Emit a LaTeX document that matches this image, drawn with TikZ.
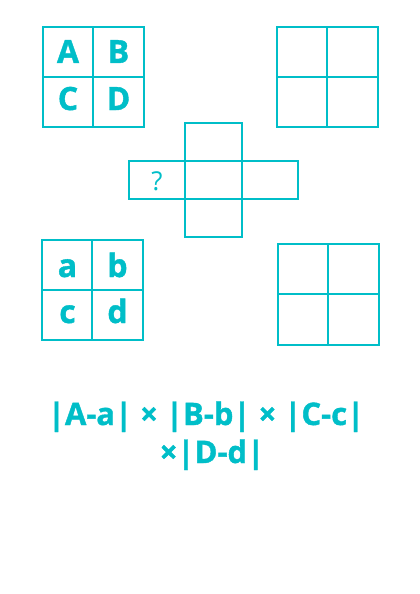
\documentclass[tikz,border=0pt]{standalone}
\usepackage{fontspec}
\setmainfont{Open Sans}[BoldFeatures={FakeBold=1.2}]
\definecolor{teal}{HTML}{00BEC8}
\begin{document}
\begin{tikzpicture}[x=1pt,y=-1pt,
  grid/.style={draw=teal,line width=1.8pt},
  thin/.style={draw=teal,line width=1.4pt},
  big/.style={text=teal,font=\fontsize{32}{32}\selectfont\bfseries,anchor=base,inner sep=0pt},
  formula/.style={text=teal,font=\fontsize{31}{31}\selectfont\bfseries,anchor=base,inner sep=0pt}]
\useasboundingbox[fill=white] (0,0) rectangle (420,594);
% top-left grid
\draw[grid] (43,27) rectangle (144,127) (93,27) -- (93,127) (43,77) -- (144,77);
\node[big] (A) at (68,63) {A};
\node[big] (B) at (118.5,63) {B};
\node[big] (C) at (68,110) {C};
\node[big] (D) at (118.5,110) {D};
% top-right grid
\draw[grid] (277,27) rectangle (378,127) (327,27) -- (327,127) (277,77) -- (378,77);
% cross
\draw[thin] (185,123) rectangle (242,161);
\draw[thin] (129,161) rectangle (298,199) (185,161) -- (185,199) (242,161) -- (242,199);
\draw[thin] (185,199) rectangle (242,237);
\node[text=teal,font=\fontsize{26}{26}\selectfont,anchor=base,inner sep=0pt] (q) at (157,190) {?};
% bottom-left grid
\draw[grid] (42,240) rectangle (143,340) (92,240) -- (92,340) (42,290) -- (143,290);
\node[big] (a) at (67.5,277) {a};
\node[big] (b) at (117.5,277) {b};
\node[big] (c) at (67.5,323) {c};
\node[big] (d) at (117.5,323) {d};
% bottom-right grid
\draw[grid] (278,244) rectangle (379,345) (328,244) -- (328,345) (278,294) -- (379,294);
% formula
\node[formula] (f1) at (206,425) {|A-a| × |B-b| × |C-c|};
\node[formula] (f2) at (212,463) {×|D-d|};
\end{tikzpicture}
\end{document}
